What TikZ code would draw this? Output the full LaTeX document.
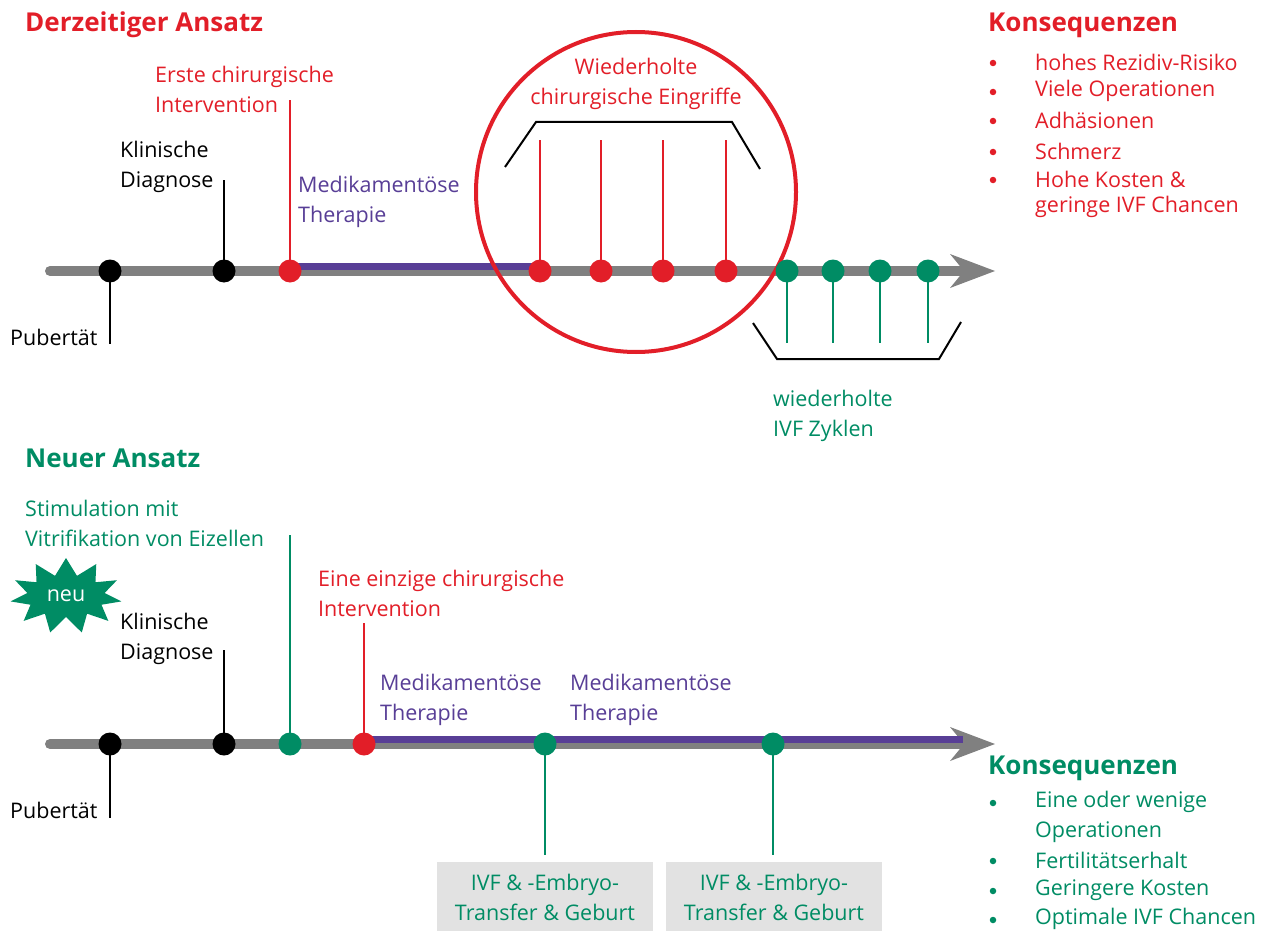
\documentclass[tikz,border=0pt]{standalone}
\usepackage{fontspec}
\setmainfont{Open Sans}
\usetikzlibrary{shapes.symbols}
\definecolor{cred}{RGB}{226,30,40}
\definecolor{cgreen}{RGB}{0,140,100}
\definecolor{cpurple}{RGB}{88,62,150}
\definecolor{cgray}{RGB}{128,128,128}
\definecolor{cbox}{RGB}{226,226,226}
\begin{document}
\begin{tikzpicture}[x=1pt,y=-1pt,
 txt/.style={inner sep=0pt, anchor=west, align=left, font=\fontsize{21.5}{30}\selectfont},
 ctxt/.style={inner sep=0pt, anchor=center, align=center, font=\fontsize{21.5}{30}\selectfont},
 hdr/.style={inner sep=0pt, anchor=west, font=\fontsize{26}{30}\selectfont\bfseries},
 bul/.style={circle, fill=#1, minimum size=6.5pt, inner sep=0pt},
 dot/.style={circle, fill=#1, minimum size=23pt, inner sep=0pt},
 timeline/.style={cgray, line width=10pt, line cap=round},
 therapy/.style={cpurple, line width=7pt},
 tick/.style={line width=2.5pt},
 brace/.style={black, line width=2pt},
 ivfbox/.style={fill=cbox, minimum width=216pt, minimum height=70pt, inner sep=0pt, align=center, text=cgreen, font=\fontsize{21.5}{30}\selectfont},
]
\useasboundingbox (0,0) rectangle (1266,931);

% ---------------- top timeline ----------------
\coordinate (ts) at (50,271);
\coordinate (te) at (962,271);
\coordinate (tip1) at (995,271);
\draw[timeline] (ts) -- (te);
\fill[cgray] (950,254) -- (tip1) -- (950,288) -- (964,271) -- cycle;
\draw[therapy] (290,266) -- (540,266);

\draw[cred, line width=4pt] (636,192) circle (160pt);

\node[dot=black] (b1) at (110,271) {};
\node[dot=black] (b2) at (224,271) {};
\node[dot=cred] (r0) at (290,271) {};
\node[dot=cred] (r1) at (540,271) {};
\node[dot=cred] (r2) at (601,271) {};
\node[dot=cred] (r3) at (663,271) {};
\node[dot=cred] (r4) at (726,271) {};
\node[dot=cgreen] (g1) at (787,271) {};
\node[dot=cgreen] (g2) at (833,271) {};
\node[dot=cgreen] (g3) at (880,271) {};
\node[dot=cgreen] (g4) at (928,271) {};

\coordinate (e-b1) at (110,344);
\coordinate (e-b2) at (224,180);
\coordinate (e-r0) at (290,100);
\coordinate (e-r1) at (540,140);
\coordinate (e-r2) at (601,140);
\coordinate (e-r3) at (663,140);
\coordinate (e-r4) at (726,140);
\coordinate (e-g1) at (787,343);
\coordinate (e-g2) at (833,343);
\coordinate (e-g3) at (880,343);
\coordinate (e-g4) at (928,343);
\draw[tick, black] (b1.center) -- (e-b1);
\draw[tick, black] (b2.center) -- (e-b2);
\draw[tick, cred] (r0.center) -- (e-r0);
\foreach \i in {1,2,3,4} {\draw[tick, cred] (r\i.center) -- (e-r\i);}
\foreach \i in {1,2,3,4} {\draw[tick, cgreen] (g\i.center) -- (e-g\i);}

\draw[brace] (505,167) -- (536,122) -- (732,122) -- (760,169);
\draw[brace] (753,323) -- (777,359) -- (939,359) -- (961,322);

\node[hdr, text=cred] (h1) at (25,25) {Derzeitiger Ansatz};
\node[txt, text=cred] (erste) at (155,89) {Erste chirurgische\\Intervention};
\node[txt] (klin1) at (120,167) {Klinische\\Diagnose};
\node[txt] (pub1) at (10,337) {Pubertät};
\node[txt, text=cpurple] (med1) at (298,202) {Medikamentöse\\Therapie};
\node[ctxt, text=cred] (wied) at (636,84) {Wiederholte\\chirurgische Eingriffe};
\node[txt, text=cgreen] (ivfz) at (773,416) {wiederholte\\IVF Zyklen};

\node[hdr, text=cred] (k1) at (988,25) {Konsequenzen};
\foreach \y/\t [count=\n] in {62/hohes Rezidiv-Risiko, 91/Viele Operationen, 120/Adhäsionen, 151/Schmerz, 179/Hohe Kosten \&} {
  \node[bul=cred] (kb\n) at (993,\y+1) {};
  \node[txt, text=cred] (ki\n) at (1035,\y) {\t};
}
\node[txt, text=cred] (ki6) at (1035,207) {geringe IVF Chancen};

% ---------------- bottom timeline ----------------
\coordinate (bs) at (50,744);
\coordinate (be) at (962,744);
\coordinate (tip2) at (995,744);
\draw[timeline] (bs) -- (be);
\fill[cgray] (950,727) -- (tip2) -- (950,761) -- (964,744) -- cycle;
\draw[therapy] (364,739) -- (963,739);

\node[dot=black] (bb1) at (110,744) {};
\node[dot=black] (bb2) at (224,744) {};
\node[dot=cgreen] (gs) at (290,744) {};
\node[dot=cred] (rs) at (364,744) {};
\node[dot=cgreen] (gi1) at (545,744) {};
\node[dot=cgreen] (gi2) at (773,744) {};

\coordinate (e-bb1) at (110,818);
\coordinate (e-bb2) at (224,650);
\coordinate (e-gs) at (290,535);
\coordinate (e-rs) at (364,623);
\coordinate (e-gi1) at (545,855);
\coordinate (e-gi2) at (773,855);
\draw[tick, black] (bb1.center) -- (e-bb1);
\draw[tick, black] (bb2.center) -- (e-bb2);
\draw[tick, cgreen] (gs.center) -- (e-gs);
\draw[tick, cred] (rs.center) -- (e-rs);
\draw[tick, cgreen] (gi1.center) -- (e-gi1);
\draw[tick, cgreen] (gi2.center) -- (e-gi2);

\node[hdr, text=cgreen] (h2) at (25,458) {Neuer Ansatz};
\node[txt, text=cgreen] (stim) at (25,523) {Stimulation mit\\Vitrifikation von Eizellen};
\node[starburst, starburst points=11, starburst point height=17pt, random starburst=0,
      fill=cgreen, minimum width=112pt, minimum height=76pt, inner sep=0pt,
      text=white, font=\fontsize{21.5}{30}\selectfont] (neu) at (66,596) {neu};
\node[txt] (klin2) at (120,639) {Klinische\\Diagnose};
\node[txt, text=cred] (eine) at (318,593) {Eine einzige chirurgische\\Intervention};
\node[txt] (pub2) at (10,810) {Pubertät};
\node[txt, text=cpurple] (med2a) at (380,700) {Medikamentöse\\Therapie};
\node[txt, text=cpurple] (med2b) at (570,700) {Medikamentöse\\Therapie};

\node[ivfbox] (box1) at (545,897) {IVF \& -Embryo-\\Transfer \& Geburt};
\node[ivfbox] (box2) at (774,897) {IVF \& -Embryo-\\Transfer \& Geburt};

\node[hdr, text=cgreen] (k2) at (988,768) {Konsequenzen};
\node[bul=cgreen] (kb7) at (993,803) {};
\node[txt, text=cgreen] (ki7) at (1035,817) {Eine oder wenige\\Operationen};
\foreach \y/\t [count=\n from 8] in {860/Fertilitätserhalt, 890/Geringere Kosten, 919/Optimale IVF Chancen} {
  \node[bul=cgreen] (kb\n) at (993,\y+1) {};
  \node[txt, text=cgreen] (ki\n) at (1035,\y) {\t};
}
\end{tikzpicture}
\end{document}
